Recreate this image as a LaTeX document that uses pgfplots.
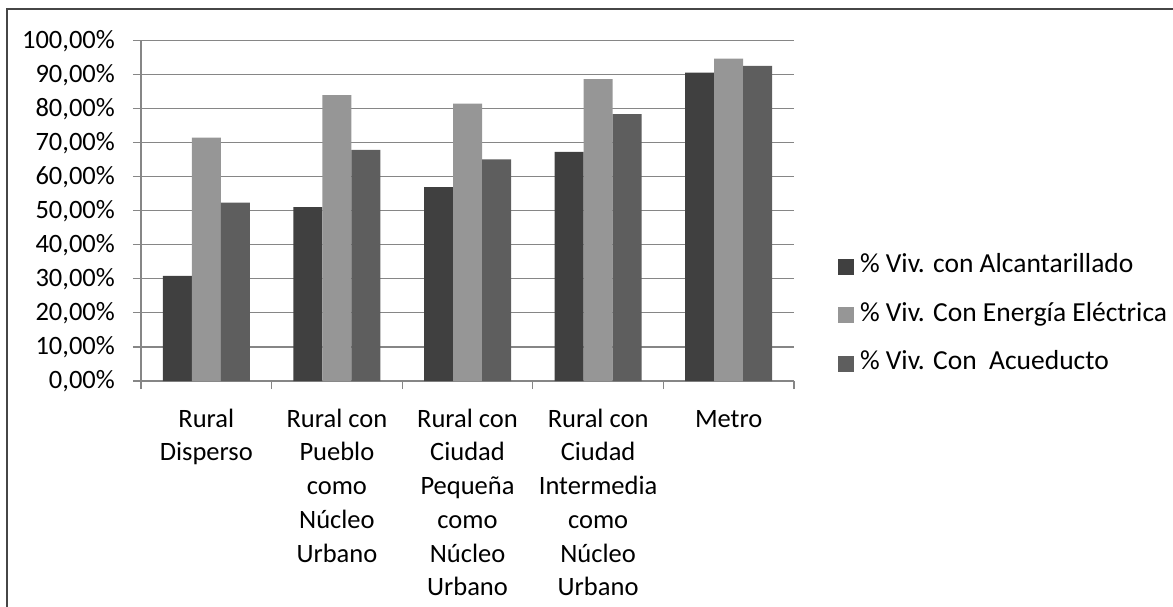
\documentclass[border=0pt]{standalone}
\usepackage{pgfplots}
\pgfplotsset{compat=1.18}
\usepackage{fontspec}
\setmainfont{Carlito}
\definecolor{serA}{HTML}{404040}
\definecolor{serB}{HTML}{969696}
\definecolor{serC}{HTML}{5E5E5E}
\definecolor{gridc}{HTML}{868686}
\definecolor{framec}{HTML}{464646}
\newcommand\fl{\rule{0pt}{19pt}}
\begin{document}
\begin{tikzpicture}[x=1pt,y=1pt]
\useasboundingbox (0,0) rectangle (1173,606);
\draw[framec, line width=1.6pt] (7,-2) -- (7,597) -- (1176,597);
\begin{axis}[
  at={(141pt,225pt)}, anchor=south west,
  scale only axis, width=653pt, height=340.3pt,
  xmin=-0.5, xmax=4.5, ymin=0, ymax=100,
  ybar=0pt, bar width=29pt,
  axis x line*=bottom, axis y line*=left,
  axis line style={draw=gridc, line width=1.1pt},
  ymajorgrids, grid style={draw=gridc, line width=1.1pt},
  tick align=outside, major tick length=8pt,
  tick style={draw=gridc, line width=1.1pt},
  ytick={0,10,...,100},
  yticklabels={{0,00\%},{10,00\%},{20,00\%},{30,00\%},{40,00\%},{50,00\%},{60,00\%},{70,00\%},{80,00\%},{90,00\%},{100,00\%}},
  yticklabel style={font=\fontsize{26.5}{30}\selectfont, anchor=east, inner sep=0pt, xshift=-18pt},
  xtick={-0.5,0.5,1.5,2.5,3.5,4.5}, xticklabels={},
  extra x ticks={0,1,2,3,4},
  extra x tick labels={{\fl Rural\\Disperso},{\fl Rural con\\Pueblo\\como\\Núcleo\\Urbano},{\fl Rural con\\Ciudad\\Pequeña\\como\\Núcleo\\Urbano},{\fl Rural con\\Ciudad\\Intermedia\\como\\Núcleo\\Urbano},{\fl Metro}},
  extra x tick style={major tick length=0pt, tick style={draw=none}},
  xticklabel style={font=\fontsize{26.5}{33.7}\selectfont, align=center, anchor=north, inner sep=0pt, yshift=-27pt},
  legend style={at={(1.0674,0.3703)}, anchor=north west, draw=none, fill=none, inner sep=0pt, outer sep=0pt,
    row sep=24.5pt, column sep=6pt, font=\fontsize{27.5}{30}\selectfont,
    nodes={inner sep=0pt, text height=18pt, text depth=6pt}},
  legend cell align=left,
  legend image code/.code={\fill[#1] (0pt,-8pt) rectangle (16pt,8pt);},
]
\addplot[fill=serA, draw=none] coordinates {(0,30.9) (1,51.1) (2,57.0) (3,67.3) (4,90.6)};
\addplot[fill=serB, draw=none] coordinates {(0,71.5) (1,84.0) (2,81.5) (3,88.7) (4,94.7)};
\addplot[fill=serC, draw=none] coordinates {(0,52.4) (1,67.9) (2,65.1) (3,78.4) (4,92.6)};
\legend{\% Viv. con Alcantarillado, \% Viv. Con Energía Eléctrica, \% Viv. Con\ \ Acueducto}
\end{axis}
\end{tikzpicture}
\end{document}
